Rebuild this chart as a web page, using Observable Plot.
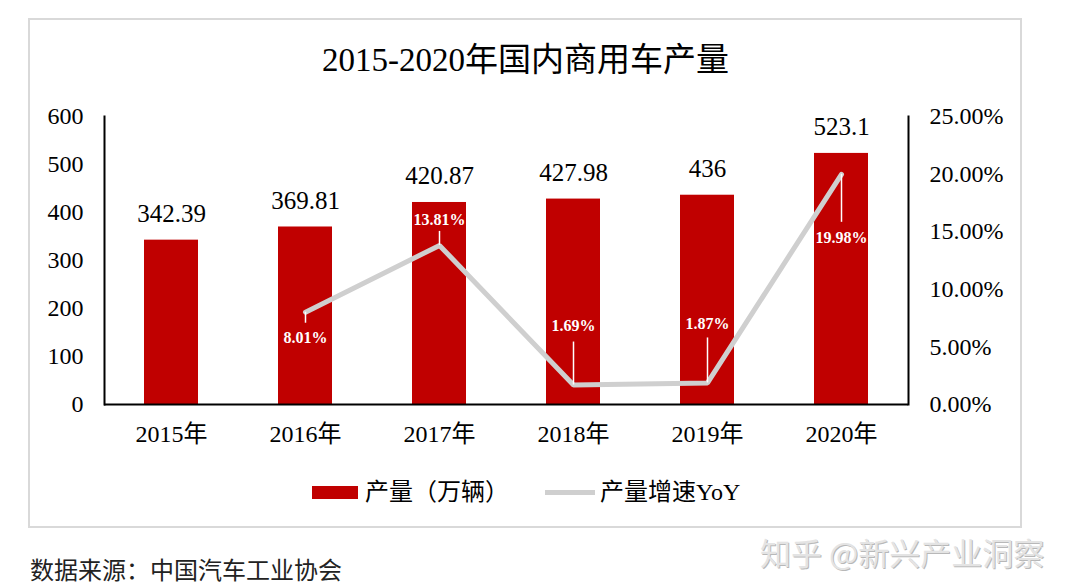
<!DOCTYPE html>
<html>
<head>
<meta charset="utf-8">
<script src="https://cdn.jsdelivr.net/npm/d3@7"></script>
<script src="https://cdn.jsdelivr.net/npm/@observablehq/plot@0.6"></script>
<style>
  html, body { margin: 0; padding: 0; background: #fff; }
  #page { position: relative; width: 1080px; height: 588px; overflow: hidden; background: #fff;
          font-family: "Liberation Serif", "Noto Sans CJK SC", serif; color: #000; }
  #box { position: absolute; left: 28px; top: 18px; width: 994px; height: 510px; box-sizing: border-box;
         border: 2px solid #d9d9d9; }
  #title { position: absolute; left: 29px; width: 993px; top: 40px; text-align: center; font-size: 33px; line-height: 40px; }
  #chart { position: absolute; left: 0; top: 0; }
  .lg { position: absolute; font-size: 24px; line-height: 30px; top: 477px; white-space: nowrap; }
  .sw { position: absolute; }
  #source { position: absolute; left: 30px; top: 557px; font-size: 24px; line-height: 28px; color: #222; white-space: nowrap; }
  #wm { position: absolute; left: 760px; top: 534px; font-size: 31px; line-height: 36px; color: #e4e4e4; white-space: nowrap;
        font-family: "Noto Sans CJK SC", sans-serif; text-shadow: 1px 1px 0 #b8b8b8; }
</style>
</head>
<body>
<div id="page">
  <div id="box"></div>
  <div id="title"></div>
  <div id="chart"></div>
  <div class="sw" style="left:312px;top:486px;width:46px;height:13px;background:#C00000"></div>
  <div class="lg" id="lg1" style="left:365px"></div>
  <div class="sw" style="left:545px;top:490px;width:50px;height:5px;background:#cfcfcf"></div>
  <div class="lg" id="lg2" style="left:600px"></div>
  <div id="source"></div>
  <div id="wm"></div>
</div>
<script>
// ---- data ----
const titleText = "2015-2020年国内商用车产量";
const years = ["2015年", "2016年", "2017年", "2018年", "2019年", "2020年"];
const production = [342.39, 369.81, 420.87, 427.98, 436, 523.1];
const growthYears = ["2016年", "2017年", "2018年", "2019年", "2020年"];
const growth = [8.01, 13.81, 1.69, 1.87, 19.98];
const leftTicks = [0, 100, 200, 300, 400, 500, 600];
const rightTicks = [0, 5, 10, 15, 20, 25];
const barLegend = "产量（万辆）";
const lineLegend = "产量增速YoY";
const sourceText = "数据来源：中国汽车工业协会";
const watermark = "知乎 @新兴产业洞察";

// ---- label placement (styling, px) ----
const growthLabelDy = [26, -26, -59, -59, 64];
const leaderPx = [11, -14, -43, -45, 48];

// ---- layout ----
const W = 1080, H = 470;
const mTop = 116, mBottom = 66, mLeft = 104, mRight = 172;
const leftMax = 600, rightMax = 25;
const ratio = leftMax / rightMax;
const pxPerUnit = (H - mTop - mBottom) / leftMax;

const bars = years.map((y, i) => ({year: y, value: production[i]}));
const line = growthYears.map((y, i) => ({
  year: y, pct: growth[i], yv: growth[i] * ratio,
  y2: growth[i] * ratio - leaderPx[i] / pxPerUnit, dy: growthLabelDy[i]
}));

const font = "Liberation Serif, Noto Sans CJK SC, serif";

const chart = Plot.plot({
  width: W, height: H,
  marginTop: mTop, marginBottom: mBottom, marginLeft: mLeft, marginRight: mRight,
  style: {fontFamily: font, fontSize: "24px", color: "#000", background: "transparent"},
  x: {domain: years, paddingInner: 0.6, paddingOuter: 0.3, label: null},
  y: {domain: [0, leftMax], label: null},
  marks: [
    Plot.barY(bars, {x: "year", y: "value", fill: "#C00000"}),
    Plot.frame({anchor: "left", stroke: "#000", strokeWidth: 2}),
    Plot.frame({anchor: "right", stroke: "#000", strokeWidth: 2}),
    Plot.ruleY([0], {stroke: "#000", strokeWidth: 2}),
    Plot.axisY({ticks: leftTicks, tickSize: 0, tickPadding: 21, fontSize: 24, label: null}),
    Plot.axisY({anchor: "right", ticks: rightTicks.map(d => d * ratio), tickSize: 0, tickPadding: 21, fontSize: 24,
                tickFormat: d => (d / ratio).toFixed(2) + "%", label: null}),
    Plot.axisX({tickSize: 0, tickPadding: 20, fontSize: 24, label: null}),
    Plot.text(bars, {x: "year", y: "value", text: d => String(d.value), dy: -26, fontSize: 25}),
    Plot.line(line, {x: "year", y: "yv", stroke: "#cfcfcf", strokeWidth: 5, strokeLinejoin: "miter"}),
    Plot.ruleX(line, {x: "year", y1: "yv", y2: "y2", stroke: "#fff", strokeWidth: 1.5}),
    ...line.map(d => Plot.text([d], {x: "year", y: "yv", text: v => v.pct.toFixed(2) + "%", dy: d.dy,
                fill: "#fff", fontWeight: "bold", fontSize: 16}))
  ]
});
document.getElementById("chart").appendChild(chart);
document.getElementById("title").textContent = titleText;
document.getElementById("lg1").textContent = barLegend;
document.getElementById("lg2").textContent = lineLegend;
document.getElementById("source").textContent = sourceText;
document.getElementById("wm").textContent = watermark;
</script>
</body>
</html>
